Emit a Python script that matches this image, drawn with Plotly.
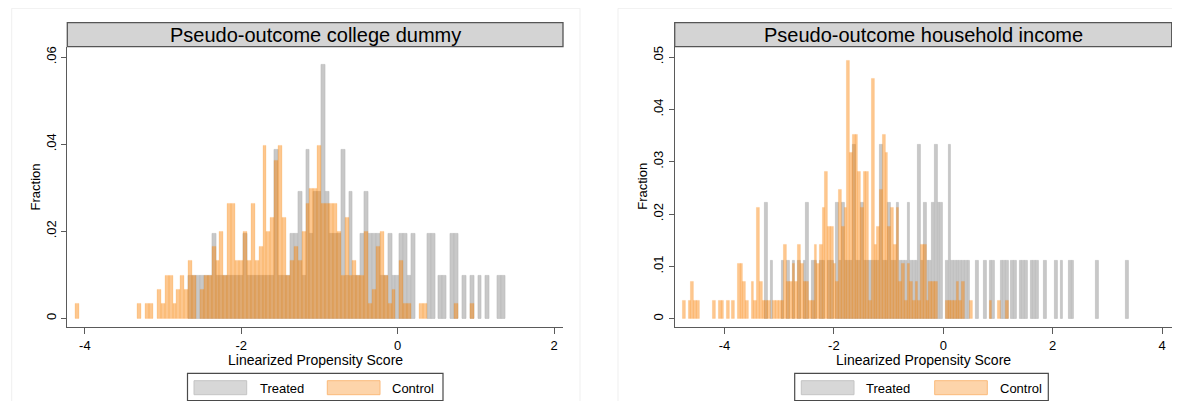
import plotly.graph_objects as go

W, H = 1180, 401
# the page body adds an 8px margin; shift layout coordinates to compensate
PAGE_MARGIN = 8
FONT = "Liberation Sans, Arial, sans-serif"

# ---------------- data ----------------
panel_titles = ["Pseudo-outcome college dummy", "Pseudo-outcome household income"]
legend_labels = ["Treated", "Control"]
x_axis_title = "Linearized Propensity Score"
y_axis_title = "Fraction"

# Left panel (college dummy): histogram bins of the linearized propensity score
left_bin_start = -4.125
left_bin_width = 0.05
left_n_treated = 103
left_n_control = 303
left_treated_counts = [
    0, 0, 0, 0, 0, 0, 0, 0, 0, 0, 0, 0, 0, 0, 0, 0, 0, 0, 0, 0,
    0, 0, 0, 0, 0, 0, 0, 0, 0, 1, 1, 1, 1, 1, 1, 2, 1, 1, 1, 1,
    1, 1, 1, 2, 1, 1, 1, 1, 1, 1, 1, 4, 1, 1, 1, 2, 2, 3, 1, 4,
    2, 3, 3, 6, 3, 2, 2, 2, 4, 1, 3, 1, 1, 2, 3, 2, 2, 2, 1, 1,
    2, 1, 1, 2, 2, 1, 2, 0, 0, 0, 2, 2, 0, 1, 1, 0, 2, 2, 0, 1,
    0, 1, 0, 1, 0, 1, 0, 0, 1, 1,
]
left_control_counts = [
    1, 0, 0, 0, 0, 0, 0, 0, 0, 0, 0, 0, 0, 0, 0, 0, 1, 0, 1, 1,
    0, 2, 1, 3, 3, 1, 2, 3, 2, 4, 3, 0, 2, 3, 3, 5, 4, 6, 3, 8,
    8, 4, 4, 6, 4, 8, 4, 5, 12, 6, 7, 11, 12, 7, 3, 4, 5, 4, 6, 8,
    9, 9, 12, 8, 8, 8, 8, 6, 3, 7, 3, 4, 3, 3, 6, 1, 2, 5, 6, 3,
    1, 2, 0, 4, 1, 1, 0, 0, 1, 1, 0, 0, 0, 0, 0, 0, 0, 1, 0, 0,
    0, 1, 0, 0, 0, 0, 0, 0, 0, 0,
]
left_x_ticks = [-4, -2, 0, 2]
left_y_ticks = [0, 0.02, 0.04, 0.06]
left_y_ticklabels = ["0", ".02", ".04", ".06"]

# Right panel (household income)
right_bin_start = -4.76
right_bin_width = 0.05
right_n_treated = 90
right_n_control = 284
right_treated_counts = [
    0, 0, 0, 0, 0, 0, 0, 0, 0, 0, 0, 0, 0, 0, 0, 0, 0, 0, 0, 0,
    0, 0, 0, 0, 0, 0, 0, 0, 0, 0, 2, 0, 1, 0, 0, 0, 1, 0, 1, 0,
    1, 0, 1, 0, 1, 2, 0, 1, 1, 0, 1, 1, 0, 1, 1, 0, 2, 1, 2, 1,
    1, 1, 3, 1, 1, 2, 1, 1, 1, 1, 1, 1, 3, 1, 1, 2, 1, 1, 2, 1,
    1, 1, 2, 1, 1, 1, 3, 1, 2, 1, 1, 2, 3, 2, 2, 0, 1, 3, 1, 1,
    1, 1, 1, 1, 1, 0, 0, 1, 0, 0, 1, 0, 1, 1, 0, 0, 1, 1, 1, 0,
    1, 1, 0, 1, 1, 1, 0, 1, 1, 1, 0, 0, 1, 0, 0, 0, 1, 0, 1, 0,
    0, 1, 1, 0, 0, 0, 0, 0, 0, 0, 0, 1, 0, 0, 0, 0, 0, 0, 0, 0,
    0, 0, 1, 0,
]
right_control_counts = [
    1, 0, 1, 2, 1, 1, 0, 0, 0, 0, 0, 1, 0, 1, 1, 0, 1, 0, 1, 0,
    3, 3, 2, 1, 0, 2, 1, 6, 2, 1, 1, 1, 0, 1, 1, 1, 1, 4, 2, 2,
    3, 2, 4, 3, 2, 2, 1, 1, 4, 3, 4, 6, 8, 5, 5, 3, 2, 7, 5, 6,
    14, 9, 10, 10, 8, 6, 8, 8, 1, 13, 4, 5, 7, 10, 9, 5, 6, 4, 6, 2,
    3, 1, 3, 2, 1, 2, 1, 4, 4, 1, 2, 2, 2, 0, 0, 0, 1, 1, 1, 1,
    2, 1, 2, 0, 0, 1, 0, 0, 0, 0, 0, 0, 1, 0, 0, 1, 0, 0, 1, 0,
]
right_x_ticks = [-4, -2, 0, 2, 4]
right_y_ticks = [0, 0.01, 0.02, 0.03, 0.04, 0.05]
right_y_ticklabels = ["0", ".01", ".02", ".03", ".04", ".05"]

# ---------------- styles ----------------
TREATED_FILL = "rgb(200,200,200)"
TREATED_LINE = "rgb(185,185,185)"
CONTROL_FILL = "rgba(250,131,6,0.45)"
CONTROL_LINE = "rgba(250,131,6,0.25)"
AXIS_COLOR = "#5a5a5a"


def hist_xy(start, width, counts, n):
    xs, ys = [], []
    for i, c in enumerate(counts):
        if c > 0:
            xs.append(start + (i + 0.5) * width)
            ys.append(c / n)
    return xs, ys


def px_x(px):
    return (px - PAGE_MARGIN) / W


def px_y(py):
    return 1 - (py - PAGE_MARGIN) / H


panels = [
    dict(
        title=panel_titles[0], xa="x", ya="y",
        left=67.3, right=563.0, top=46.7, bottom=327.3,
        xrange=[-4.225, 2.114], yrange=[-0.00207, 0.0624],
        xticks=left_x_ticks, yticks=left_y_ticks, yticklabels=left_y_ticklabels,
        start=left_bin_start, width=left_bin_width,
        tc=left_treated_counts, cc=left_control_counts,
        nt=left_n_treated, nc=left_n_control,
        leg=dict(box=(187.5, 443.0), sw1=(194.0, 246.7), t1=257.5, sw2=(327.3, 380.0), t2=389.5),
    ),
    dict(
        title=panel_titles[1], xa="x2", ya="y2",
        left=674.7, right=1171.7, top=46.7, bottom=327.3,
        xrange=[-4.91, 4.175], yrange=[-0.00164, 0.05198],
        xticks=right_x_ticks, yticks=right_y_ticks, yticklabels=right_y_ticklabels,
        start=right_bin_start, width=right_bin_width,
        tc=right_treated_counts, cc=right_control_counts,
        nt=right_n_treated, nc=right_n_control,
        leg=dict(box=(794.7, 1048.3), sw1=(801.3, 854.0), t1=863.5, sw2=(934.7, 987.3), t2=997.5),
    ),
]

fig = go.Figure()
shapes = []
annotations = []

# faint outer frames of the combined graph regions
for x0, x1 in [(11.7, 580.0), (618.0, 1178.0)]:
    shapes.append(dict(type="rect", xref="paper", yref="paper",
                       x0=px_x(x0), x1=px_x(x1), y0=px_y(402), y1=px_y(8.3),
                       line=dict(color="#efefef", width=1), fillcolor="rgba(0,0,0,0)", layer="below"))

for i, p in enumerate(panels):
    tx, ty = hist_xy(p["start"], p["width"], p["tc"], p["nt"])
    cx, cy = hist_xy(p["start"], p["width"], p["cc"], p["nc"])
    fig.add_trace(go.Bar(x=tx, y=ty, width=p["width"], xaxis=p["xa"], yaxis=p["ya"],
                         marker=dict(color=TREATED_FILL, line=dict(color=TREATED_LINE, width=0.6)),
                         name=legend_labels[0], showlegend=False))
    fig.add_trace(go.Bar(x=cx, y=cy, width=p["width"], xaxis=p["xa"], yaxis=p["ya"],
                         marker=dict(color=CONTROL_FILL, line=dict(color=CONTROL_LINE, width=0.6)),
                         name=legend_labels[1], showlegend=False))

    axis_x = dict(
        domain=[px_x(p["left"]), px_x(p["right"])], range=p["xrange"],
        anchor=p["ya"], showline=True, linecolor=AXIS_COLOR, linewidth=1.3,
        ticks="outside", ticklen=6, tickwidth=1, tickcolor=AXIS_COLOR,
        tickvals=p["xticks"], ticktext=[("%g" % v) for v in p["xticks"]],
        tickfont=dict(size=13, color="black", family=FONT), ticklabelstandoff=0,
        showgrid=False, zeroline=False, fixedrange=True,
    )
    axis_y = dict(
        domain=[px_y(p["bottom"]), px_y(p["top"])], range=p["yrange"],
        anchor=p["xa"], showline=True, linecolor=AXIS_COLOR, linewidth=1.3,
        ticks="outside", ticklen=5, tickwidth=1, tickcolor=AXIS_COLOR,
        tickvals=p["yticks"], ticktext=p["yticklabels"], tickangle=-90,
        tickfont=dict(size=13, color="black", family=FONT),
        showgrid=False, zeroline=False, fixedrange=True,
    )
    if i == 0:
        fig.update_layout(xaxis=axis_x, yaxis=axis_y)
    else:
        fig.update_layout(xaxis2=axis_x, yaxis2=axis_y)

    # title band
    shapes.append(dict(type="rect", xref="paper", yref="paper",
                       x0=px_x(p["left"]), x1=px_x(p["right"]),
                       y0=px_y(p["top"]), y1=px_y(22.7),
                       fillcolor="#d4d4d4", line=dict(color="#555555", width=1.3)))
    annotations.append(dict(text=p["title"], xref="paper", yref="paper",
                            x=px_x((p["left"] + p["right"]) / 2), y=px_y(35.0),
                            xanchor="center", yanchor="middle", showarrow=False,
                            font=dict(size=20, color="black", family=FONT)))
    # axis titles
    annotations.append(dict(text=y_axis_title, xref="paper", yref="paper",
                            x=px_x(p["left"] - 31.6), y=px_y(186.7), textangle=-90,
                            xanchor="center", yanchor="middle", showarrow=False,
                            font=dict(size=13, color="black", family=FONT)))
    annotations.append(dict(text=x_axis_title, xref="paper", yref="paper",
                            x=px_x((p["left"] + p["right"]) / 2), y=px_y(359.5),
                            xanchor="center", yanchor="middle", showarrow=False,
                            font=dict(size=14, color="black", family=FONT)))
    # legend
    lg = p["leg"]
    shapes.append(dict(type="rect", xref="paper", yref="paper",
                       x0=px_x(lg["box"][0]), x1=px_x(lg["box"][1]),
                       y0=px_y(400.6), y1=px_y(373.3),
                       fillcolor="white", line=dict(color="#4a4a4a", width=1.2)))
    shapes.append(dict(type="rect", xref="paper", yref="paper",
                       x0=px_x(lg["sw1"][0]), x1=px_x(lg["sw1"][1]),
                       y0=px_y(394.7), y1=px_y(380.7),
                       fillcolor="#d7d7d7", line=dict(color="#c4c4c4", width=1)))
    shapes.append(dict(type="rect", xref="paper", yref="paper",
                       x0=px_x(lg["sw2"][0]), x1=px_x(lg["sw2"][1]),
                       y0=px_y(394.7), y1=px_y(380.7),
                       fillcolor="#fdd4aa", line=dict(color="#fbba7a", width=1)))
    annotations.append(dict(text=legend_labels[0], xref="paper", yref="paper",
                            x=px_x(lg["t1"]), y=px_y(388.0), xanchor="left", yanchor="middle",
                            showarrow=False, font=dict(size=13, color="black", family=FONT)))
    annotations.append(dict(text=legend_labels[1], xref="paper", yref="paper",
                            x=px_x(lg["t2"]), y=px_y(388.0), xanchor="left", yanchor="middle",
                            showarrow=False, font=dict(size=13, color="black", family=FONT)))

fig.update_layout(
    width=W, height=H, margin=dict(l=0, r=0, t=0, b=0),
    paper_bgcolor="white", plot_bgcolor="white",
    barmode="overlay", bargap=0, showlegend=False,
    shapes=shapes, annotations=annotations,
    font=dict(family=FONT, color="black"),
)

fig.write_html("out.html", config={"displayModeBar": False})
